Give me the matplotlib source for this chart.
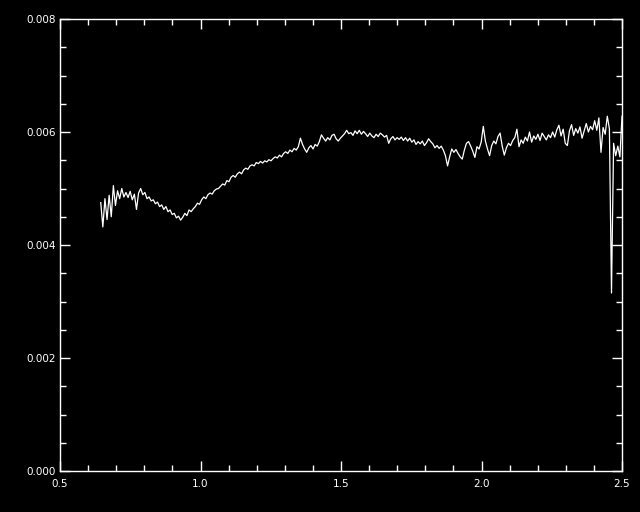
import numpy as np
import matplotlib
matplotlib.use("Agg")
import matplotlib.pyplot as plt
from matplotlib.ticker import MultipleLocator, FixedLocator

# Flux values in units of 1e-4 (uniform wavelength grid 0.645 .. 2.5)
flux_e4 = [
    47.5, 43.2, 48.2, 44.5, 48.8, 45.0, 50.5, 47.0, 49.6, 48.2,
    50.0, 48.5, 49.3, 48.4, 49.5, 48.0, 49.0, 46.3, 49.2, 50.0,
    48.9, 49.3, 48.2, 48.5, 47.8, 48.0, 47.3, 47.6, 46.8, 47.1,
    46.3, 46.8, 45.9, 46.2, 45.4, 45.6, 44.8, 45.1, 44.4, 44.9,
    45.6, 45.2, 46.2, 45.9, 46.4, 46.8, 47.4, 47.2, 48.0, 48.5,
    48.2, 48.9, 49.2, 49.0, 49.6, 49.9, 50.0, 50.4, 50.8, 50.6,
    51.4, 51.2, 52.0, 52.3, 52.0, 52.6, 52.9, 52.6, 53.3, 53.6,
    53.4, 54.0, 54.2, 54.0, 54.6, 54.4, 54.8, 54.5, 54.9, 54.7,
    55.1, 54.9, 55.3, 55.6, 55.4, 55.9, 55.6, 56.2, 56.5, 56.2,
    56.8, 56.5, 57.1, 56.8, 57.4, 58.9, 57.8, 57.0, 56.4, 57.2,
    57.6, 57.0, 57.8, 57.5, 58.3, 59.5, 58.9, 58.4, 59.0, 58.6,
    59.4, 59.6, 58.8, 58.4, 58.9, 59.3, 59.7, 60.3, 59.7, 59.9,
    59.4, 60.2, 59.7, 60.3, 59.6, 60.1, 59.7, 59.2, 59.8, 59.3,
    59.0, 59.6, 59.2, 59.8, 59.5, 59.1, 59.4, 58.0, 58.8, 59.2,
    58.6, 59.0, 58.7, 59.1, 58.5, 59.0, 58.4, 58.9, 58.2, 58.6,
    57.8, 58.3, 57.9, 58.4, 57.6, 58.1, 58.8, 58.3, 57.9, 57.2,
    57.6, 57.1, 57.5, 56.8, 55.8, 54.0, 55.6, 57.0, 56.4, 56.9,
    56.2, 55.6, 55.2, 56.8, 58.0, 58.3, 57.5, 56.6, 55.5, 57.4,
    57.0, 58.2, 61.0, 58.4, 57.0, 55.8, 57.6, 58.4, 57.9, 59.2,
    59.8, 57.5, 55.9, 57.2, 58.0, 57.6, 58.5, 59.0, 60.5, 57.4,
    58.6, 58.0, 59.1, 58.4, 60.0, 58.2, 59.3, 58.7, 59.6, 58.5,
    59.8, 59.2, 58.6, 59.5, 59.0, 60.0, 59.1, 60.4, 61.2, 59.3,
    60.5, 58.0, 57.6, 60.2, 61.3, 59.4, 60.6, 59.8, 60.9, 58.9,
    60.2, 61.5, 60.0, 61.0, 60.4, 62.0, 60.3, 62.5, 56.4, 60.8,
    59.6, 62.8, 60.6, 31.5, 58.0, 55.8, 57.5, 55.6, 62.8,
]
wave_start = 0.645
wave_end = 2.5

x_ticks = [0.5, 1.0, 1.5, 2.0, 2.5]
x_tick_labels = ["0.5", "1.0", "1.5", "2.0", "2.5"]
y_ticks = [0.000, 0.002, 0.004, 0.006, 0.008]
y_tick_labels = ["0.000", "0.002", "0.004", "0.006", "0.008"]

flux = np.array(flux_e4) * 1e-4
wave = np.linspace(wave_start, wave_end, len(flux))

fig = plt.figure(figsize=(6.4, 5.12), dpi=100, facecolor="black")
ax = fig.add_axes([60/640, 41/512, 562/640, 452/512], facecolor="black")
ax.plot(wave, flux, color="white", lw=0.9)

ax.set_xlim(0.5, 2.5)
ax.set_ylim(0.0, 0.008)
ax.xaxis.set_major_locator(FixedLocator(x_ticks))
ax.set_xticklabels(x_tick_labels)
ax.yaxis.set_major_locator(FixedLocator(y_ticks))
ax.set_yticklabels(y_tick_labels)
ax.xaxis.set_minor_locator(MultipleLocator(0.1))
ax.yaxis.set_minor_locator(MultipleLocator(0.0005))

for s in ax.spines.values():
    s.set_color("white")
    s.set_linewidth(1.0)
ax.tick_params(which="both", direction="in", colors="white", top=True, right=True,
               labelsize=7.5, width=1.0)
ax.tick_params(which="major", length=7.5)
ax.tick_params(which="minor", length=4)
ax.tick_params(axis="x", which="major", pad=6)
ax.tick_params(axis="y", which="major", pad=3)

fig.savefig("out.png", dpi=100, facecolor="black")
